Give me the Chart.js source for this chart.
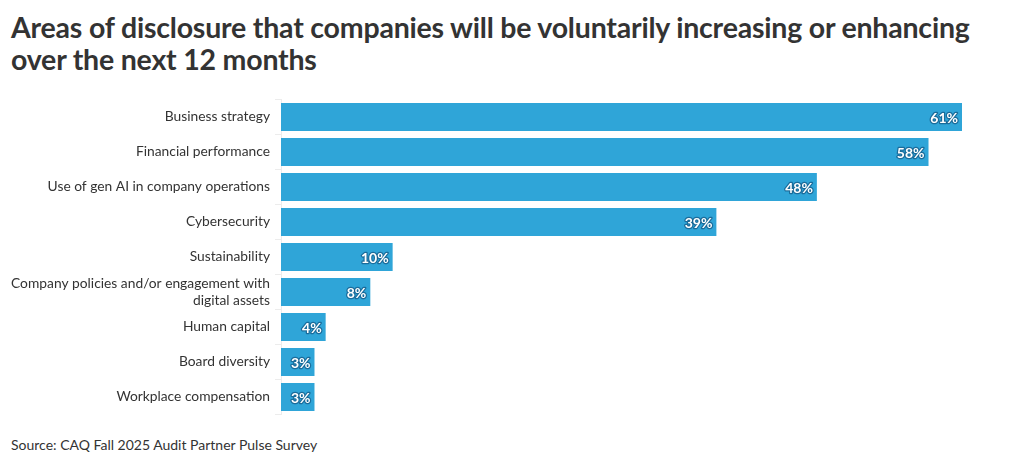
<!DOCTYPE html>
<html>
<head>
<meta charset="utf-8">
<script src="https://cdn.jsdelivr.net/npm/chart.js@4.4.0/dist/chart.umd.min.js"></script>
<style>
  body { margin: 0; background: #fff; font-family: Lato, sans-serif; color: #333; }
  #title { position: absolute; left: 11px; top: 11px; width: 985px; font-size: 28.5px; font-weight: bold; line-height: 32px; letter-spacing: -0.2px; }
  #wrap { position: absolute; left: 0; top: 90px; width: 1020px; height: 335px; }
  #source { position: absolute; left: 11px; top: 436px; font-size: 14px; }
</style>
</head>
<body>
<div id="title">Areas of disclosure that companies will be voluntarily increasing or enhancing over the next 12 months</div>
<div id="wrap"><canvas id="bar"></canvas></div>
<div id="source">Source: CAQ Fall 2025 Audit Partner Pulse Survey</div>
<script>
const categories = [
  'Business strategy',
  'Financial performance',
  'Use of gen AI in company operations',
  'Cybersecurity',
  'Sustainability',
  ['Company policies and/or engagement with', 'digital assets'],
  'Human capital',
  'Board diversity',
  'Workplace compensation'
];
const values = [61, 58, 48, 39, 10, 8, 4, 3, 3];

const barLabels = {
  id: 'barLabels',
  afterDatasetsDraw(chart) {
    const ctx = chart.ctx;
    const meta = chart.getDatasetMeta(0);
    ctx.save();
    ctx.font = 'bold 14px Lato';
    ctx.textAlign = 'right';
    ctx.textBaseline = 'middle';
    ctx.lineJoin = 'round';
    meta.data.forEach((bar, i) => {
      const txt = values[i] + '%';
      ctx.strokeStyle = 'rgba(20,90,135,0.75)';
      ctx.lineWidth = 2.5;
      ctx.strokeText(txt, bar.x - 4, bar.y + 1);
      ctx.fillStyle = '#fff';
      ctx.fillText(txt, bar.x - 4, bar.y + 1);
    });
    ctx.restore();
  }
};

function graph_bar() {
  const ctx = document.getElementById('bar');
  new Chart(ctx, {
    type: 'bar',
    data: {
      labels: categories,
      datasets: [{
        data: values,
        backgroundColor: '#2fa5d8',
        barPercentage: 0.8,
        categoryPercentage: 1
      }]
    },
    plugins: [barLabels],
    options: {
      indexAxis: 'y',
      responsive: true,
      maintainAspectRatio: false,
      animation: false,
      layout: { padding: { top: 9.5, bottom: 10.5, right: 58, left: 0 } },
      scales: {
        x: { display: false, min: 0, max: 61 },
        y: {
          // fixed axis width, and no extra room for half-labels at the ends
          afterFit: s => { s.width = 281; s.paddingTop = 0; s.paddingBottom = 0; },
          grid: { display: true, drawOnChartArea: false, color: '#ececec', tickLength: 6 },
          border: { color: '#ececec' },
          ticks: { color: '#333', font: { family: 'Lato', size: 13.8 }, padding: 5, autoSkip: false }
        }
      },
      plugins: {
        legend: { display: false },
        tooltip: { enabled: false }
      }
    }
  });
}
graph_bar();
</script>
</body>
</html>
